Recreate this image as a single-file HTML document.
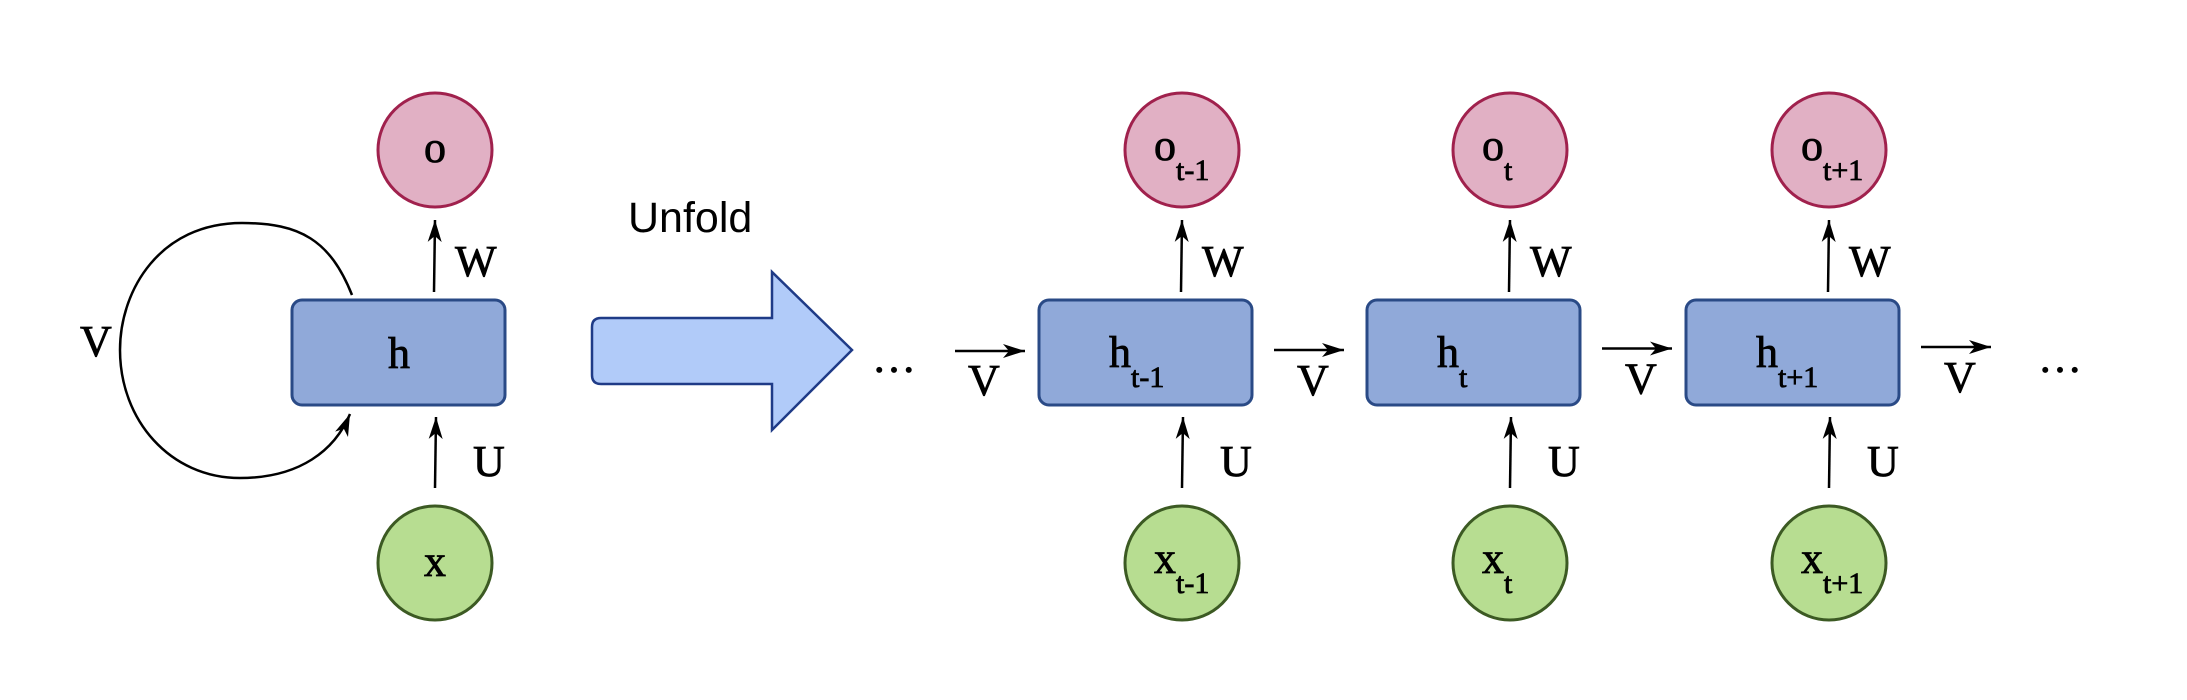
<!DOCTYPE html>
<html><head><meta charset="utf-8"><style>
html,body{margin:0;padding:0;background:#fff;}
svg{display:block;}
.t{font-family:"Liberation Serif",serif;font-size:44px;fill:#000;stroke:#000;stroke-width:0.8;}
.s{font-size:30px;}
</style></head><body>
<svg width="2187" height="700" viewBox="0 0 2187 700" xmlns="http://www.w3.org/2000/svg">
<defs>
<marker id="ah" markerWidth="24" markerHeight="16" refX="22" refY="8" orient="auto" markerUnits="userSpaceOnUse">
<path d="M0,1 L22,8 L0,15 L6,8 Z" fill="#000"/>
</marker>
</defs>
<g id="folded">
<circle cx="435" cy="150" r="57" fill="#e1b0c4" stroke="#a0214d" stroke-width="3"/>
<text class="t" x="435" y="162" text-anchor="middle">o</text>
<rect x="292" y="300" width="213" height="105" rx="10" fill="#90a9d9" stroke="#2a4a86" stroke-width="3"/>
<text class="t" x="399" y="368" text-anchor="middle">h</text>
<circle cx="435" cy="563" r="57" fill="#b7dd91" stroke="#3c5a23" stroke-width="3"/>
<text class="t" x="435" y="576" text-anchor="middle">x</text>
<line x1="434" y1="292" x2="435" y2="220" stroke="#000" stroke-width="2.5" marker-end="url(#ah)"/>
<text class="t" x="455" y="276">W</text>
<line x1="435" y1="488" x2="436" y2="417" stroke="#000" stroke-width="2.5" marker-end="url(#ah)"/>
<text class="t" x="473" y="476">U</text>
<path d="M352,295 C330,240 300,223 242,223 C160,223 120,290 120,350 C120,420 170,478 240,478 C300,478 335,450 350,414" fill="none" stroke="#000" stroke-width="2.5" marker-end="url(#ah)"/>
<text class="t" x="80" y="356">V</text>
</g>
<text x="628" y="232" font-family="Liberation Sans, sans-serif" font-size="43">Unfold</text>
<path d="M601,318 L772,318 L772,272 L852,350 L772,430 L772,384 L601,384 Q592,384 592,375 L592,327 Q592,318 601,318 Z" fill="#b1cbf9" stroke="#1f3b87" stroke-width="2.5"/>
<text class="t" x="872" y="372">…</text>
<line x1="955" y1="351" x2="1025" y2="351" stroke="#000" stroke-width="2.5" marker-end="url(#ah)"/>
<text class="t" x="968" y="395">V</text>
<g id="unf"></g>
<text class="t" x="2038" y="372">…</text>
</svg>
<script>
const steps=["t-1","t","t+1"];
const boxX=[1039,1367,1686];
const NS="http://www.w3.org/2000/svg";
const g=document.getElementById('unf');
function mk(tag,attrs,txt){const e=document.createElementNS(NS,tag);for(const k in attrs)e.setAttribute(k,attrs[k]);if(txt!==undefined)e.textContent=txt;g.appendChild(e);return e;}
function lbl(x,y,main,sub){const t=mk('text',{class:'t',x:x,y:y});const a=document.createElementNS(NS,'tspan');a.textContent=main;t.appendChild(a);if(sub){const b=document.createElementNS(NS,'tspan');b.setAttribute('class','s');b.setAttribute('dy','20');b.textContent=sub;t.appendChild(b);}return t;}
steps.forEach((s,i)=>{
 const bx=boxX[i],cx=bx+143;
 let e;
 e=mk('circle',{cx:cx,cy:150,r:57,fill:'#e1b0c4',stroke:'#a0214d','stroke-width':3});
 
 
 e=lbl(cx-28,160,'o',s);
 
 
 e=mk('rect',{x:bx,y:300,width:213,height:105,rx:10,fill:'#90a9d9',stroke:'#2a4a86','stroke-width':3});
 
 
 e=lbl(bx+70,367,'h',s);
 
 
 e=mk('circle',{cx:cx,cy:563,r:57,fill:'#b7dd91',stroke:'#3c5a23','stroke-width':3});
 
 
 e=lbl(cx-28,573,'x',s);
 
 
 e=mk('line',{x1:cx-1,y1:292,x2:cx,y2:220,stroke:'#000','stroke-width':2.5,'marker-end':'url(#ah)'});
 
 
 e=mk('text',{class:'t',x:cx+20,y:276},'W');
 
 
 e=mk('line',{x1:cx,y1:488,x2:cx+1,y2:417,stroke:'#000','stroke-width':2.5,'marker-end':'url(#ah)'});
 
 
 e=mk('text',{class:'t',x:cx+38,y:476},'U');
 
 
 const ay=350-i*1.5;
 e=mk('line',{x1:bx+235,y1:ay,x2:bx+305,y2:ay,stroke:'#000','stroke-width':2.5,'marker-end':'url(#ah)'});
 
 
 e=mk('text',{class:'t',x:bx+258,y:ay+45},'V');
 
 
});
</script>
</body></html>
